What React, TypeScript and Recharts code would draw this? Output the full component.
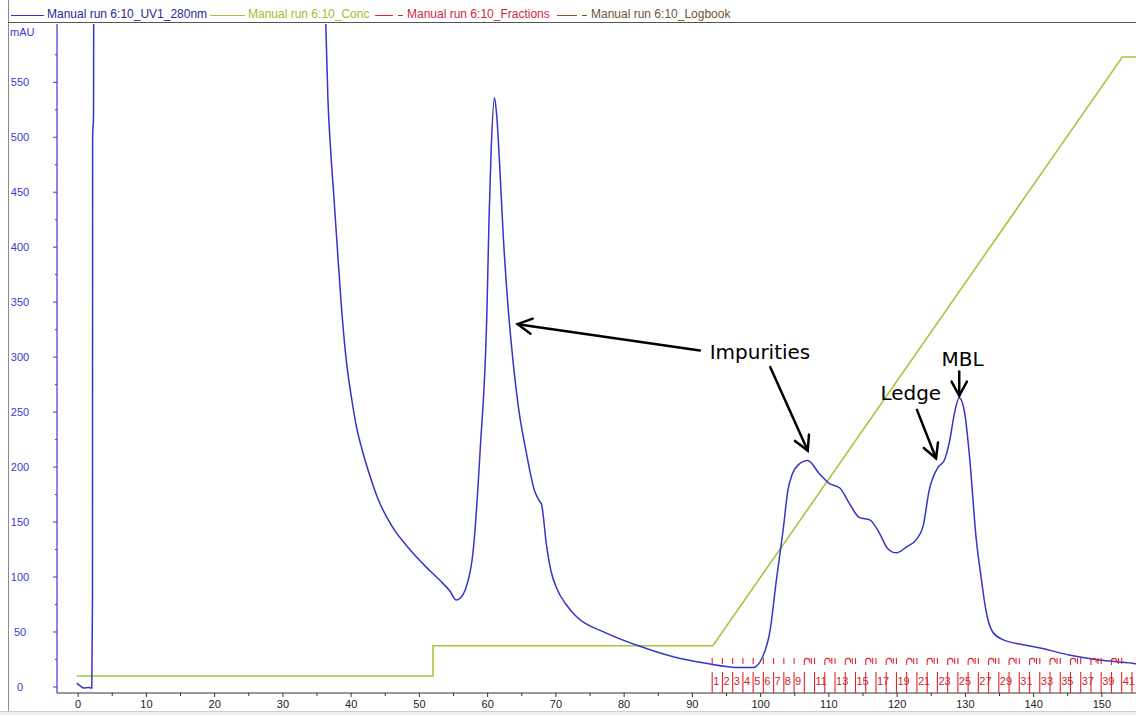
import React from 'react';
import {
  ComposedChart,
  Line,
  Scatter,
  XAxis,
  YAxis,
  ReferenceLine,
  ReferenceDot,
} from 'recharts';

// UV 280 nm trace (mL, mAU) — detector saturates between ~2 and ~36 mL
const uvMl = [
  -0.2, 0.3, 0.8, 1.5, 2.0, 2.1, 2.12, 2.25, 2.3, 35.8, 36.3, 36.6, 37.0, 37.5,
  38.0, 38.5, 39.2, 40.1, 40.8, 41.6, 42.7, 44.0, 46.0, 48.6, 51.0, 53.0, 54.5,
  55.4, 56.0, 56.7, 57.9, 58.9, 59.9, 60.2, 60.5, 61.0, 61.3, 61.8, 62.3, 63.0,
  63.5, 64.5, 65.7, 66.9, 67.5, 67.9, 68.6, 69.3, 70.1, 71.5, 73.0, 77.4, 82.3,
  87.2, 92.0, 96.9, 98.9, 100.3, 101.4, 102.3, 103.3, 104.0, 104.6, 105.5,
  106.9, 108.6, 110.1, 111.6, 113.0, 114.5, 116.0, 117.4, 118.6, 119.9, 121.3,
  122.8, 123.8, 124.7, 126.0, 126.9, 127.7, 128.4, 129.1, 129.9, 130.6, 131.6,
  132.3, 133.0, 134.0, 135.5, 138.9, 141.3, 145.2, 149.6, 154.5, 155.0,
];
const uvMau = [
  3.5, 1, -1, -0.5, -1, 80, 500, 520, 700, 700, 600, 534, 488, 443,
  397, 352, 302, 261, 236, 216, 193, 170, 146, 125, 109, 97, 87,
  79, 81, 88, 125, 215, 343, 425, 486, 536, 522, 470, 409, 345,
  310, 255, 212, 178, 170, 166, 130, 105, 90, 75, 64, 49, 37,
  27.5, 21.5, 17.6, 17.6, 27.5, 52, 97, 143, 179, 193, 202,
  206, 194, 185, 181, 167, 154, 152, 140, 126, 122, 127,
  134, 146, 179, 200, 206, 224, 249, 263, 249, 210, 134,
  100, 70, 50, 43, 38, 35, 29, 24.5, 21.5, 21,
];

// Concentration of buffer B (%)
const concMl = [-0.2, 52.0, 52.0, 93.0, 153.0, 155.0];
const concPctB = [1.75, 1.75, 6.55, 6.55, 100, 100];

// Fraction collector boundaries (mL) and fraction numbers
const fractionMl = [
  92.9, 94.4, 95.9, 97.4, 98.9, 100.4, 101.9, 103.4, 104.9, 106.4, 107.9, 109.4,
  110.9, 112.4, 113.9, 115.4, 116.9, 118.4, 119.9, 121.4, 122.9, 124.4, 125.9,
  127.4, 128.9, 130.4, 131.9, 133.4, 134.9, 136.4, 137.9, 139.4, 140.9, 142.4,
  143.9, 145.4, 146.9, 148.4, 149.9, 151.4, 152.9, 154.4,
];
const fractionNames = [
  '1', '2', '3', '4', '5', '6', '7', '8', '9', '10', '11', '12', '13', '14',
  '15', '16', '17', '18', '19', '20', '21', '22', '23', '24', '25', '26', '27',
  '28', '29', '30', '31', '32', '33', '34', '35', '36', '37', '38', '39', '40',
  '41', '',
];

const xTicks = [
  0, 5, 10, 15, 20, 25, 30, 35, 40, 45, 50, 55, 60, 65, 70, 75, 80, 85, 90, 95,
  100, 105, 110, 115, 120, 125, 130, 135, 140, 145, 150,
];
const yTicks = [
  0, 25, 50, 75, 100, 125, 150, 175, 200, 225, 250, 275, 300, 325, 350, 375,
  400, 425, 450, 475, 500, 525, 550, 575,
];

// Hand annotations
const noteText = ['Impurities', 'Ledge', 'MBL'];
const noteMl = [99.9, 122.0, 129.6];
const noteMau = [298, 261, 292];

const arrowFromMl = [91.1, 101.4, 122.9, 129.1];
const arrowFromMau = [306, 291, 252, 287];
const arrowToMl = [64.4, 106.9, 125.7, 129.1];
const arrowToMau = [330, 215, 208, 265];

const Y_MIN = -5.5;
const Y_MAX = 603;

const FONT = '"Liberation Sans", Arial, sans-serif';
const UV_BLUE = '#3535c6';
const AXIS_BLUE = '#3a3ad0';
const CONC_GREEN = '#a8c43c';
const FRAC_RED = '#e0262e';

const uvData = uvMl.map((ml, i) => ({ ml, mAU: uvMau[i] }));
const concData = concMl.map((ml, i) => ({ ml, pctB: concPctB[i] }));
const fractionData = fractionMl.map((ml, i) => ({ ml, base: Y_MIN, n: fractionNames[i] }));

const YTick = (props: any) => {
  const { x, y, payload } = props;
  const major = payload.value % 50 === 0;
  return (
    <g>
      <line x1={x - (major ? 4 : 2)} x2={x} y1={y} y2={y} stroke={AXIS_BLUE} strokeWidth={1} />
      {major && (
        <text x={x - 37} y={y + 4} textAnchor="middle" fontSize={11} fontFamily={FONT} fill={AXIS_BLUE}>
          {payload.value}
        </text>
      )}
    </g>
  );
};

const XTick = (props: any) => {
  const { x, y, payload } = props;
  const major = payload.value % 10 === 0;
  return (
    <g>
      <line x1={x} x2={x} y1={y} y2={y + (major ? 4 : 3)} stroke="#333" strokeWidth={1} />
      {major && (
        <text x={x} y={y + 15} textAnchor="middle" fontSize={11} fontFamily={FONT} fill="#222">
          {payload.value}
        </text>
      )}
    </g>
  );
};

const FractionMark = (props: any) => {
  const { cx, cy, payload } = props;
  const label: string = payload.n;
  const n = Number(label);
  const showLabel = label !== '' && (n < 10 || n % 2 === 1);
  const arch = label !== '' && n >= 10 && n % 2 === 0;
  return (
    <g>
      <line x1={cx} x2={cx} y1={cy} y2={cy - 21} stroke={FRAC_RED} strokeWidth={1.1} />
      {arch ? (
        <path
          d={`M${cx},${cy - 28} v-4 a2.6,2.6 0 0 1 5.2,0 v1.5`}
          fill="none"
          stroke={FRAC_RED}
          strokeWidth={1.1}
        />
      ) : null}
      {label !== '' && (
        <line
          x1={arch ? cx + 7 : cx}
          x2={arch ? cx + 7 : cx}
          y1={cy - 35}
          y2={cy - 29}
          stroke={FRAC_RED}
          strokeWidth={1.1}
        />
      )}
      {showLabel && (
        <text x={cx + 1} y={cy - 8} fontSize={11} fontFamily={FONT} fill="#c8262c">
          {label}
        </text>
      )}
    </g>
  );
};

const Arrow = (props: any) => {
  const { x1, y1, x2, y2 } = props;
  const a = Math.atan2(y2 - y1, x2 - x1);
  const len = 16;
  const half = 0.5;
  const ax = x2 - len * Math.cos(a - half);
  const ay = y2 - len * Math.sin(a - half);
  const bx = x2 - len * Math.cos(a + half);
  const by = y2 - len * Math.sin(a + half);
  return (
    <g stroke="#000" strokeWidth={2.5} fill="none" strokeLinecap="round">
      <line x1={x1} y1={y1} x2={x2} y2={y2} />
      <polyline points={`${ax},${ay} ${x2},${y2} ${bx},${by}`} />
    </g>
  );
};

const legendItems = [
  { name: 'Manual run 6:10_UV1_280nm', color: '#28289a', line: UV_BLUE, x: 11, w: 33, dash: false },
  { name: 'Manual run 6:10_Conc', color: '#a9b82a', line: CONC_GREEN, x: 210, w: 35, dash: false },
  { name: 'Manual run 6:10_Fractions', color: '#d0263c', line: FRAC_RED, x: 375, w: 18, dash: true },
  { name: 'Manual run 6:10_Logbook', color: '#6e5432', line: '#7a5a36', x: 557, w: 20, dash: true },
];

export default function App() {
  return (
    <div
      style={{
        position: 'absolute',
        left: 0,
        top: 0,
        width: 1136,
        height: 715,
        background: '#fff',
        overflow: 'hidden',
        fontFamily: FONT,
      }}
    >
      {/* window frame */}
      <div style={{ position: 'absolute', left: 8, top: 0, width: 1, height: 712, background: '#8a8a8a' }} />
      <div style={{ position: 'absolute', left: 8, top: 22, width: 1128, height: 1, background: '#555' }} />
      <div style={{ position: 'absolute', left: 0, top: 711, width: 1136, height: 1, background: '#cfcfcf' }} />
      <div style={{ position: 'absolute', left: 0, top: 712, width: 1136, height: 3, background: '#efefef' }} />

      {/* legend */}
      {legendItems.map((it) => (
        <React.Fragment key={it.name}>
          <div
            style={{
              position: 'absolute',
              left: it.x,
              top: 15,
              width: it.w,
              height: 1,
              background: it.line,
            }}
          />
          {it.dash && (
            <div
              style={{
                position: 'absolute',
                left: it.x + it.w + 5,
                top: 15,
                width: 5,
                height: 1,
                background: it.line,
              }}
            />
          )}
          <div
            style={{
              position: 'absolute',
              left: it.x + it.w + (it.dash ? 14 : 3),
              top: 7,
              fontSize: 12,
              lineHeight: '14px',
              color: it.color,
              whiteSpace: 'nowrap',
            }}
          >
            {it.name}
          </div>
        </React.Fragment>
      ))}

      <div
        style={{
          position: 'absolute',
          left: 10,
          top: 26,
          fontSize: 11,
          lineHeight: '13px',
          color: AXIS_BLUE,
        }}
      >
        mAU
      </div>

      <div style={{ position: 'absolute', left: 0, top: 0 }}>
        <ComposedChart width={1136} height={715} margin={{ top: 24, right: 0, bottom: 0, left: 0 }}>
          <XAxis
            dataKey="ml"
            type="number"
            domain={[-3.1, 155]}
            allowDataOverflow
            ticks={xTicks}
            interval={0}
            height={22}
            tickSize={0}
            tickMargin={0}
            tickLine={false}
            tick={<XTick />}
            axisLine={{ stroke: '#333', strokeWidth: 1 }}
          />
          <YAxis
            type="number"
            domain={[Y_MIN, Y_MAX]}
            allowDataOverflow
            ticks={yTicks}
            interval={0}
            width={57}
            tickSize={0}
            tickMargin={0}
            tickLine={false}
            tick={<YTick />}
            axisLine={{ stroke: AXIS_BLUE, strokeWidth: 1.2 }}
          />
          <YAxis yAxisId="conc" orientation="right" hide domain={[-0.96, 105.24]} allowDataOverflow />

          <Line
            yAxisId="conc"
            data={concData}
            dataKey="pctB"
            type="linear"
            stroke={CONC_GREEN}
            strokeWidth={1.6}
            dot={false}
            activeDot={false}
            isAnimationActive={false}
          />
          <Line
            data={uvData}
            dataKey="mAU"
            type="monotone"
            stroke={UV_BLUE}
            strokeWidth={1.5}
            dot={false}
            activeDot={false}
            isAnimationActive={false}
          />
          <Scatter
            data={fractionData}
            dataKey="base"
            shape={<FractionMark />}
            isAnimationActive={false}
          />

          {arrowFromMl.map((ml, i) => (
            <ReferenceLine
              key={`arrow-${i}`}
              segment={[
                { x: ml, y: arrowFromMau[i] },
                { x: arrowToMl[i], y: arrowToMau[i] },
              ]}
              shape={Arrow}
            />
          ))}
          {noteText.map((t, i) => (
            <ReferenceDot
              key={t}
              x={noteMl[i]}
              y={noteMau[i]}
              shape={(p: any) => (
                <text
                  x={p.cx}
                  y={p.cy}
                  textAnchor="middle"
                  fontSize={20}
                  fontFamily='"DejaVu Sans", sans-serif'
                  fill="#000"
                >
                  {t}
                </text>
              )}
            />
          ))}
        </ComposedChart>
      </div>
    </div>
  );
}
